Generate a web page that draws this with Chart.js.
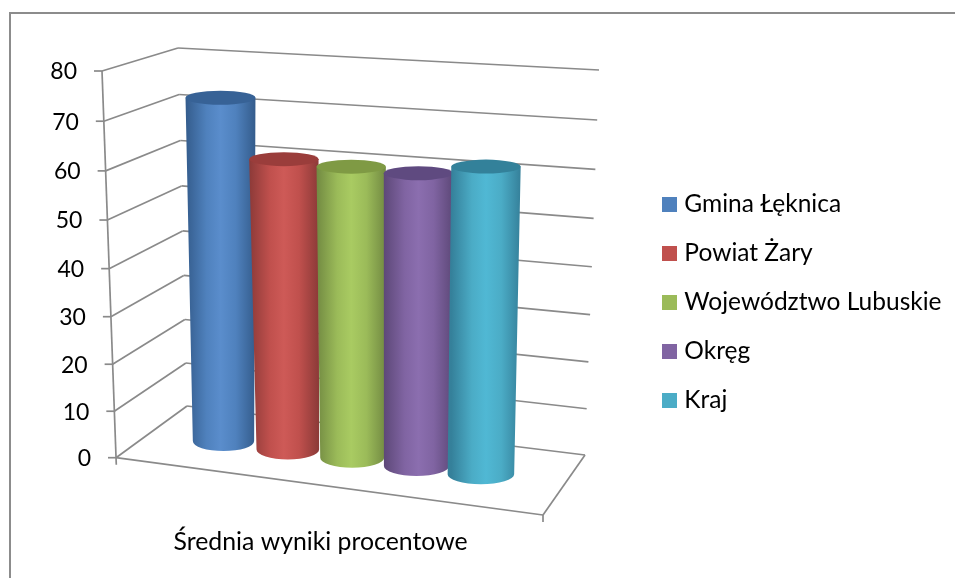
<!DOCTYPE html>
<html>
<head>
<meta charset="utf-8">
<title>Średnia wyniki procentowe</title>
<style>
  html, body { margin: 0; padding: 0; background: #fff; overflow: hidden; }
  #wrap { position: absolute; left: 0; top: 0; width: 955px; height: 578px; }
  #frame { position: absolute; left: 9px; top: 12px; width: 960px; height: 600px; border: 2px solid #8c8c8c; box-sizing: border-box; }
  canvas { position: absolute; left: 0; top: 0; }
</style>
<script src="https://cdn.jsdelivr.net/npm/chart.js@4/dist/chart.umd.js"></script>
</head>
<body>
<div id="wrap">
  <div id="frame"></div>
  <canvas id="wykres" width="955" height="578"></canvas>
</div>
<script>
const kategorie = ['Średnia wyniki procentowe'];
const serie = ['Gmina Łęknica', 'Powiat Żary', 'Województwo Lubuskie', 'Okręg', 'Kraj'];
const wartosci = [73.1, 61.5, 61, 60.7, 63];
const kolory = ['#4F81BD', '#C0504D', '#9BBB59', '#8064A2', '#4BACC6'];
const krawedzie = ['#345C8C', '#8C3A38', '#728A42', '#5D4878', '#35809A'];
const srodki = ['#5A8DCC', '#CE5A57', '#A9CB62', '#8B6EAF', '#50B8D4'];
const wieczka = ['#376296', '#9A3D3B', '#7F9A44', '#5F4A80', '#33819A'];
const podzialka = [0, 10, 20, 30, 40, 50, 60, 70, 80];

const FONT = 'Lato';
const LINIA = '#8a8a8a';

// corners of the 3D box on screen (F front left, G front right, B back left, R back right)
const F0 = [116, 457.7], G0 = [543, 515], B0 = [187, 406], R0 = [585, 455];
const F1 = [102, 71], G1 = [556, 100], B1 = [178, 48], R1 = [599, 70];

function lerp(a, b, t) { return a + (b - a) * t; }
function lerp2(p, q, t) { return [lerp(p[0], q[0], t), lerp(p[1], q[1], t)]; }

// the perspective makes the upper units of the axis a bit taller
function wysokosc(scale, v) {
  const f = (scale.bottom - scale.getPixelForValue(v)) / (scale.bottom - scale.top);
  return 0.9557 * f + 0.0443 * f * f;
}

// u along the front edge, w into depth, t height in the box
function rzut(u, w, t) {
  const dol = lerp2(lerp2(F0, G0, u), lerp2(B0, R0, u), w);
  const gora = lerp2(lerp2(F1, G1, u), lerp2(B1, R1, u), w);
  return lerp2(dol, gora, t);
}

function odcinek(ctx, a, b) {
  ctx.beginPath();
  ctx.moveTo(a[0], a[1]);
  ctx.lineTo(b[0], b[1]);
  ctx.stroke();
}

function walec(chart, i) {
  const ctx = chart.ctx, y = chart.scales.y, area = chart.chartArea;
  const el = chart.getDatasetMeta(i).data[0];
  const span = area.right - area.left;
  const u = (el.x - area.left) / span - 0.0135;
  const ut = el.width / span / 2;
  const t = wysokosc(y, wartosci[i]);
  const d = rzut(u, 0.5, 0), g = rzut(u, 0.5, t);
  // the first cylinder leans less than the box corners suggest
  g[0] += u < 0.25 ? 3.5 : -1.5;
  const szerDol = rzut(1, 0.5, 0)[0] - rzut(0, 0.5, 0)[0];
  const szerGora = rzut(1, 0.5, t)[0] - rzut(0, 0.5, t)[0];
  const rxD = szerDol * ut * lerp(0.93, 1.06, u);
  const rxG = szerGora * ut * 1.03;
  const ryD = 10, ryG = 7;

  ctx.save();
  const grad = ctx.createLinearGradient(g[0] - rxG, 0, g[0] + rxG, 0);
  grad.addColorStop(0, krawedzie[i]);
  grad.addColorStop(0.3, kolory[i]);
  grad.addColorStop(0.5, srodki[i]);
  grad.addColorStop(0.72, kolory[i]);
  grad.addColorStop(1, krawedzie[i]);
  ctx.fillStyle = grad;
  ctx.beginPath();
  ctx.moveTo(g[0] - rxG, g[1]);
  ctx.lineTo(d[0] - rxD, d[1]);
  ctx.ellipse(d[0], d[1], rxD, ryD, 0, Math.PI, 0, true);
  ctx.lineTo(g[0] + rxG, g[1]);
  ctx.closePath();
  ctx.fill();
  ctx.fillStyle = wieczka[i];
  ctx.beginPath();
  ctx.ellipse(g[0], g[1], rxG, ryG, 0, 0, Math.PI * 2);
  ctx.fill();
  ctx.restore();
}

const scena3d = {
  id: 'scena3d',
  beforeDatasetsDraw(chart) {
    const ctx = chart.ctx, y = chart.scales.y;
    ctx.save();
    ctx.strokeStyle = LINIA;
    ctx.lineWidth = 1.7;
    ctx.fillStyle = '#000';
    ctx.font = '23px ' + FONT;
    ctx.textAlign = 'right';
    ctx.textBaseline = 'middle';
    y.ticks.forEach(tick => {
      const t = wysokosc(y, tick.value);
      const przod = rzut(0, 0, t), tyl = rzut(0, 1, t), prawy = rzut(1, 1, t);
      odcinek(ctx, przod, tyl);
      odcinek(ctx, tyl, prawy);
      odcinek(ctx, [przod[0] - 8, przod[1]], przod);
      ctx.fillText(tick.label, przod[0] - 25, przod[1] + 1);
    });
    // axis and floor
    odcinek(ctx, F1, [F0[0] + 0.3, F0[1] + 7]);
    odcinek(ctx, F0, G0);
    odcinek(ctx, G0, R0);
    odcinek(ctx, G0, [G0[0], G0[1] + 7]);
    ctx.restore();
  },
  // the flat bars are replaced by cylinders, left to right so later ones cover earlier ones
  beforeDatasetDraw() { return false; },
  afterDatasetsDraw(chart) {
    serie.forEach((nazwa, i) => walec(chart, i));
  }
};

// square legend markers, drawn narrow in the layout so the text sits close to them
function znacznik(kolor) {
  const c = document.createElement('canvas');
  c.width = 15;
  c.height = 15;
  const g = c.getContext('2d');
  g.fillStyle = kolor;
  g.fillRect(0, 0, 15, 15);
  return c;
}

const zestawy = serie.map((nazwa, i) => ({
  label: nazwa,
  data: [wartosci[i]],
  backgroundColor: kolory[i]
}));

new Chart(document.getElementById('wykres'), {
  type: 'bar',
  data: { labels: kategorie, datasets: zestawy },
  plugins: [scena3d],
  options: {
    responsive: false,
    animation: false,
    categoryPercentage: 0.78,
    barPercentage: 1,
    layout: { padding: { left: 0, right: 3.5, top: 44, bottom: 18 } },
    plugins: {
      tooltip: { enabled: false },
      legend: {
        position: 'right',
        maxWidth: 312,
        labels: {
          usePointStyle: true,
          pointStyleWidth: 4.5,
          padding: 24.5,
          color: '#000',
          font: { family: FONT, size: 24.5 },
          generateLabels(chart) {
            return Chart.defaults.plugins.legend.labels.generateLabels(chart).map((item, i) => {
              item.pointStyle = znacznik(kolory[i]);
              return item;
            });
          }
        }
      }
    },
    scales: {
      x: {
        grid: { display: false },
        border: { display: false },
        ticks: { color: '#000', padding: 3, labelOffset: -5, font: { family: FONT, size: 24.8 } }
      },
      y: {
        min: 0,
        max: 80,
        afterBuildTicks(s) { s.ticks = podzialka.map(v => ({ value: v })); },
        grid: { display: false },
        border: { display: false },
        ticks: { display: false }
      }
    }
  }
});
</script>
</body>
</html>
